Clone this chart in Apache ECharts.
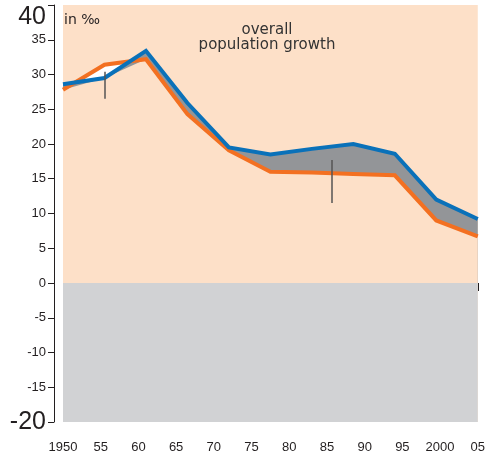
<!DOCTYPE html>
<html>
<head>
<meta charset="utf-8">
<script src="https://cdn.jsdelivr.net/npm/echarts@6/dist/echarts.min.js"></script>
<style>
  html, body { margin: 0; padding: 0; background: #fff; }
  #chart { width: 488px; height: 463px; }
</style>
</head>
<body>
<div id="chart"></div>
<script>
// period points
const years = [1950, 1955.5, 1961, 1966.5, 1972, 1977.5, 1983, 1988.5, 1994, 1999.5, 2005]
const overallGrowth = [28.6, 29.5, 33.4, 25.9, 19.5, 18.5, 19.3, 20.0, 18.6, 12.0, 9.2] // blue
const naturalGrowth = [27.8, 31.4, 32.2, 24.3, 19.1, 16.0, 15.9, 15.7, 15.5, 9.0, 6.7] // orange
const yTicks = { min: -20, max: 40, interval: 5 }
const xTicks = { min: 1950, max: 2005, interval: 5 }

const axisFont = "'Liberation Sans', Arial, sans-serif"
const textFont = "'DejaVu Sans', sans-serif"
const ink = '#231f20'

const pair = arr => years.map((y, i) => [y, arr[i]])
const lower = years.map((y, i) => [y, Math.min(overallGrowth[i], naturalGrowth[i])])
const noLine = { width: 0, opacity: 0 }

const chart = echarts.init(document.getElementById('chart'))
chart.setOption({
  animation: false,
  grid: {
    left: 63,
    right: 9,
    top: 5,
    bottom: 41,
    show: true,
    backgroundColor: '#fde0c8',
    borderWidth: 0
  },
  xAxis: {
    type: 'value',
    min: xTicks.min,
    max: xTicks.max,
    interval: xTicks.interval,
    offset: 7,
    axisLine: { show: false },
    splitLine: { show: false },
    axisTick: { show: true, length: 8, lineStyle: { color: ink, width: 1 } },
    axisLabel: {
      margin: 12,
      color: ink,
      fontFamily: axisFont,
      fontSize: 13,
      formatter: v => (v === 1950 || v === 2000) ? String(v) : String(v).slice(2)
    }
  },
  yAxis: {
    type: 'value',
    min: yTicks.min,
    max: yTicks.max,
    interval: yTicks.interval,
    offset: 9,
    axisLine: { show: true, lineStyle: { color: ink, width: 1 } },
    splitLine: { show: false },
    axisTick: { show: true, length: 6, lineStyle: { color: ink, width: 1 } },
    axisLabel: {
      margin: 8,
      color: ink,
      fontFamily: axisFont,
      fontSize: 13,
      formatter: v => v === yTicks.max ? '{top|' + v + '}' : v === yTicks.min ? '{big|' + v + '}' : String(v),
      rich: {
        top: { fontSize: 25, fontFamily: axisFont, color: ink, padding: [24, 0, 0, 0] },
        big: { fontSize: 25, fontFamily: axisFont, color: ink }
      }
    }
  },
  series: [
    {
      // white where natural growth is above overall growth
      type: 'line',
      data: pair(naturalGrowth),
      symbol: 'none',
      lineStyle: noLine,
      areaStyle: { color: '#ffffff', opacity: 1 },
      silent: true,
      markArea: {
        silent: true,
        label: { show: false },
        itemStyle: { color: '#d1d2d4', borderWidth: 0 },
        data: [[{ yAxis: yTicks.min }, { yAxis: 0 }]]
      }
    },
    {
      // grey where overall growth is above natural growth
      type: 'line',
      data: pair(overallGrowth),
      symbol: 'none',
      lineStyle: noLine,
      areaStyle: { color: '#939598', opacity: 1 },
      silent: true
    },
    {
      type: 'line',
      data: lower,
      symbol: 'none',
      lineStyle: noLine,
      areaStyle: { color: '#fde0c8', opacity: 1 },
      silent: true
    },
    {
      type: 'line',
      data: pair(naturalGrowth),
      symbol: 'none',
      lineStyle: { color: '#f37021', width: 4, join: 'miter' },
      silent: true
    },
    {
      type: 'line',
      data: pair(overallGrowth),
      symbol: 'none',
      lineStyle: { color: '#0a71b9', width: 4, join: 'miter' },
      silent: true,
      markLine: {
        silent: true,
        symbol: 'none',
        label: { show: false },
        lineStyle: { color: '#555', width: 1.5, type: 'solid' },
        data: [
          [{ coord: [1955.6, 30.4] }, { coord: [1955.6, 26.5] }],
          [{ coord: [1985.7, 17.7] }, { coord: [1985.7, 11.5] }]
        ]
      }
    }
  ],
  graphic: [
    {
      type: 'text',
      style: { text: 'in ‰', x: 64, y: 20, textVerticalAlign: 'middle', fill: ink, font: '14px ' + textFont }
    },
    {
      type: 'text',
      style: {
        text: 'overall\npopulation growth', x: 267, y: 37.5, textAlign: 'center',
        textVerticalAlign: 'middle', lineHeight: 15, fill: '#333', font: '15px ' + textFont
      }
    },
    {
      type: 'text',
      style: {
        text: 'positive\nmigration saldo', x: 132, y: 122, textAlign: 'center',
        textVerticalAlign: 'middle', lineHeight: 15, fill: '#333', font: '15px ' + textFont
      }
    },
    {
      type: 'text',
      style: {
        text: 'negative\nmigration saldo', x: 337, y: 224.5, textAlign: 'center',
        textVerticalAlign: 'middle', lineHeight: 15, fill: '#333', font: '15px ' + textFont
      }
    }
  ]
})
</script>
</body>
</html>
